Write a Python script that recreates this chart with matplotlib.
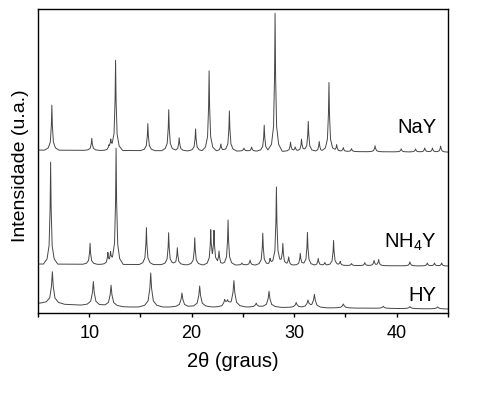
import numpy as np
import matplotlib

matplotlib.use("Agg")
import matplotlib.pyplot as plt
from matplotlib.ticker import FixedLocator

plt.rcParams["font.family"] = ["Liberation Sans", "DejaVu Sans"]
plt.rcParams["mathtext.default"] = "regular"

# peak positions (2theta, deg) and heights above the baseline (a.u.)
nay_pos = [6.35, 10.25, 11.9, 12.1, 12.57, 15.72, 17.76, 18.78, 20.38, 21.7,
           22.85, 23.68, 25.1, 25.85, 27.08, 28.14, 29.65, 30.1, 30.72, 31.38,
           32.45, 33.4, 34.15, 34.8, 35.6, 37.9, 40.45, 41.85, 42.75, 43.5, 44.3]
nay_int = [45, 12, 4, 8, 90, 27, 41, 13, 22, 80,
           7, 40, 3, 4, 26, 138, 9, 4, 12, 30,
           10, 69, 7, 4, 3, 6, 3, 3, 4, 4, 6]
nay_base_x = [5, 45]
nay_base_y = [163, 161]

nh4y_pos = [6.23, 10.08, 11.82, 12.08, 12.62, 15.58, 17.75, 18.6, 20.3, 21.86,
            22.18, 22.67, 23.55, 24.9, 25.7, 26.94, 27.65, 28.27, 28.9, 29.47,
            30.6, 31.3, 32.35, 33.0, 33.85, 34.5, 35.6, 36.9, 37.8, 38.25,
            41.3, 43.0, 43.7, 44.4]
nh4y_int = [102, 21, 11, 9, 116, 37, 32, 17, 27, 33,
            32, 13, 45, 2, 5, 32, 6, 78, 21, 8,
            12, 33, 7, 3, 25, 4, 2, 3, 5, 6,
            4, 3, 3, 3]
nh4y_base_x = [5, 45]
nh4y_base_y = [49, 47]

hy_pos = [6.4, 10.4, 12.13, 16.0, 19.05, 20.78, 23.22, 23.5, 24.12, 26.3,
          27.55, 30.2, 31.35, 31.98, 34.8, 38.7, 41.3, 44.0]
hy_int = [32, 24, 21, 34, 14, 21, 6, 5, 26, 4,
          16, 5, 7, 13, 4, 2, 2, 2]
hy_base_x = [5, 9, 14, 25, 35, 45]
hy_base_y = [10, 8, 6, 6, 5, 4]

sample_labels = ["NaY", "NH$_4$Y", "HY"]
label_y = [186, 71, 17]

# drawing shape of one reflection (offset in deg, fraction of height)
PROFILE_DX = np.array([-0.7, -0.35, -0.15, -0.05, 0.0, 0.05, 0.15, 0.35, 0.7])
PROFILE_FRAC = np.array([0.0, 0.05, 0.18, 0.55, 1.0, 0.55, 0.18, 0.05, 0.0])


def build_trace(pos, inten, base_x, base_y, width=1.0):
    dx = PROFILE_DX * width
    x = np.unique(np.concatenate([base_x] + [p + dx for p in pos]))
    x = x[(x >= 5) & (x <= 45)]
    y = np.interp(x, base_x, base_y)
    for p, h in zip(pos, inten):
        y += h * np.interp(x, p + dx, PROFILE_FRAC, left=0, right=0)
    return x, y


fig = plt.figure(figsize=(4.97, 3.98), dpi=100)
ax = fig.add_axes([0.0765, 0.2136, 0.8245, 0.7634])

traces = [
    build_trace(nay_pos, nay_int, nay_base_x, nay_base_y, 1.0),
    build_trace(nh4y_pos, nh4y_int, nh4y_base_x, nh4y_base_y, 1.0),
    build_trace(hy_pos, hy_int, hy_base_x, hy_base_y, 1.7),
]
for (x, y), label, ly in zip(traces, sample_labels, label_y):
    ax.plot(x, y, color="#474747", linewidth=0.7)
    ax.text(43.9, ly, label, ha="right", va="center", fontsize=14.5)

ax.set_xlim(5, 45)
ax.set_ylim(0, 304)
ax.xaxis.set_major_locator(FixedLocator([10, 20, 30, 40]))
ax.xaxis.set_minor_locator(FixedLocator([5, 15, 25, 35, 45]))
ax.tick_params(axis="x", which="both", direction="out", length=3, width=1,
               pad=6, labelsize=13)
ax.set_yticks([])
for spine in ax.spines.values():
    spine.set_linewidth(1)

ax.set_xlabel("2θ (graus)", fontsize=14.5)
ax.xaxis.set_label_coords(0.476, -0.13)
ax.set_ylabel("Intensidade (u.a.)", fontsize=14)
ax.yaxis.set_label_coords(-0.022, 0.484)

fig.savefig("out.png", dpi=100)
